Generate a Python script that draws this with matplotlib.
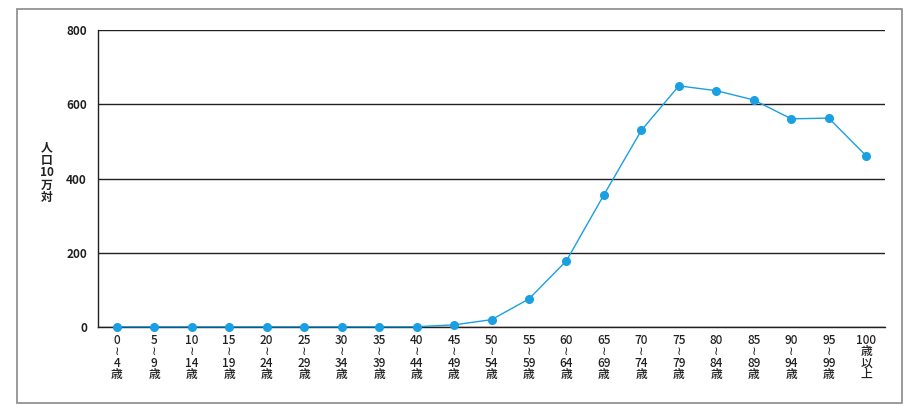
import matplotlib
matplotlib.use("Agg")
import matplotlib.pyplot as plt
from matplotlib.patches import Rectangle

plt.rcParams['font.family'] = ['Noto Sans CJK JP', 'DejaVu Sans']

# age groups and rates (per 100,000 population)
age_start = ["0", "5", "10", "15", "20", "25", "30", "35", "40", "45",
             "50", "55", "60", "65", "70", "75", "80", "85", "90", "95"]
age_end = ["4", "9", "14", "19", "24", "29", "34", "39", "44", "49",
           "54", "59", "64", "69", "74", "79", "84", "89", "94", "99"]
rates = [0, 0, 0, 0, 0, 0, 0, 0, 0, 5,
         19, 75, 178, 356, 530, 650, 637, 612, 561, 563, 461]

labels = [f"{a}\n≀\n{b}\n歳" for a, b in zip(age_start, age_end)]
labels.append("100\n歳\n以\n上")

fig = plt.figure(figsize=(9.06, 4.05), dpi=100)
ax = fig.add_axes([0.1082, 0.1933, 0.8686, 0.7319])

x = list(range(len(rates)))
ax.plot(x, rates, color="#1a9fe2", lw=1.0, marker="o", ms=5.5, zorder=3, clip_on=False)

ax.set_xlim(-0.5, 20.5)
ax.set_ylim(0, 800)
ax.set_yticks([0, 200, 400, 600, 800])
ax.tick_params(axis="y", length=0, pad=8, labelsize=8.5, labelcolor="#231f20")
for t in ax.get_yticklabels():
    t.set_fontweight("bold")
ax.set_xticks(x)
ax.set_xticklabels(labels, fontsize=8.5, color="#231f20", linespacing=0.85,
                   va="top", fontweight="medium")
ax.tick_params(axis="x", length=0, pad=5)

ax.grid(axis="y", color="#231f20", lw=1.0)
ax.set_axisbelow(True)
for s in ["top", "right"]:
    ax.spines[s].set_visible(False)
for s in ["left", "bottom"]:
    ax.spines[s].set_color("#231f20")
    ax.spines[s].set_linewidth(1.0)

fig.text(0.052, 0.574, "人\n口\n10\n万\n対", fontsize=8.5, color="#231f20",
         ha="center", va="center", linespacing=0.95, fontweight="bold")

# outer frame
fig.patches.append(Rectangle((17 / 906, 2 / 405), 885 / 906, 394 / 405,
                             transform=fig.transFigure, fill=False,
                             edgecolor="#8a8a8a", lw=1.2))

fig.savefig("out.png", dpi=100)
